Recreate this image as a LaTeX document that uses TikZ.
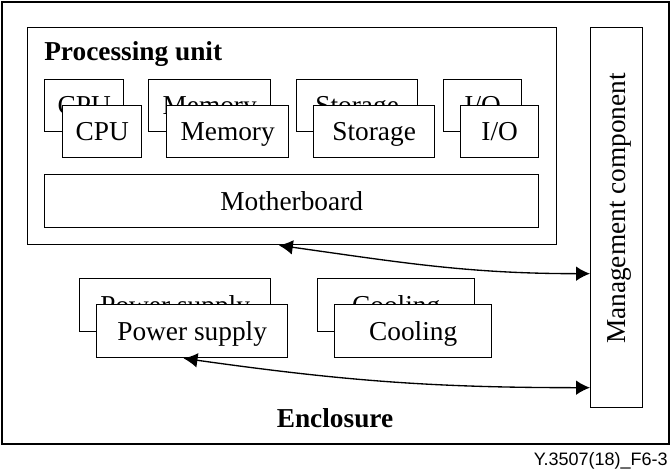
\documentclass[tikz,border=0pt]{standalone}
\usepackage{fontspec}
\setmainfont{Liberation Serif}
\newfontfamily\footfont{Liberation Sans}
\usetikzlibrary{arrows.meta}

\begin{document}
\begin{tikzpicture}[x=0.75pt,y=0.75pt,
    box/.style={draw, line width=1pt, anchor=north west, inner sep=0pt,
        font=\fontsize{20.5}{24}\selectfont, text height=13.6pt, text depth=0pt},
    frontbox/.style={box, fill=white},
    link/.style={>={Latex[length=10.5pt,width=11pt]}, <->, line width=1pt},
    title/.style={font=\fontsize{20.5}{24}\selectfont\bfseries, inner sep=0pt}]

    \useasboundingbox (0,0) rectangle (670,-474);

    % Draw enclosure and the two big boxes
    \node[box, line width=1.2pt, minimum width=500.25pt, minimum height=331.5pt] (encl) at (1,-1) {};
    \node[box, minimum width=396.75pt, minimum height=162.75pt] (pu) at (27,-27) {};
    \node[box, minimum width=39pt, minimum height=285pt] (mgmt) at (590,-27) {};

    % Label the regions
    \node[title, anchor=base west] (putitle) at (44,-61) {Processing unit};
    \node[title, anchor=base] (encltitle) at (335,-427) {Enclosure};
    \node[box, draw=none, anchor=center, rotate=90] (mgmttitle) at (616,-208.5) {Management component};

    % Components, one behind the other
    \node[box, minimum width=59.25pt, minimum height=39pt] (cpuback) at (44,-79) {CPU};
    \node[frontbox, minimum width=59.25pt, minimum height=39pt] (cpu) at (62,-105) {CPU};
    \node[box, minimum width=91.5pt, minimum height=39pt] (memback) at (148,-79) {Memory};
    \node[frontbox, minimum width=91.5pt, minimum height=39pt] (mem) at (166,-105) {Memory};
    \node[box, minimum width=90.75pt, minimum height=39pt] (storback) at (296,-79) {Storage};
    \node[frontbox, minimum width=90.75pt, minimum height=39pt] (stor) at (313,-105) {Storage};
    \node[box, minimum width=58.5pt, minimum height=39pt] (ioback) at (443,-79) {I/O};
    \node[frontbox, minimum width=58.5pt, minimum height=39pt] (io) at (460,-105) {I/O};
    \node[box, minimum width=370.5pt, minimum height=39.75pt] (mb) at (44,-174) {Motherboard};

    \node[box, minimum width=143.25pt, minimum height=39.75pt] (psuback) at (79,-278) {Power supply};
    \node[frontbox, minimum width=143.25pt, minimum height=39.75pt] (psu) at (96,-304) {Power supply};
    \node[box, minimum width=117.75pt, minimum height=39.75pt] (coolback) at (317,-278) {Cooling};
    \node[frontbox, minimum width=117.75pt, minimum height=39.75pt] (cool) at (334,-304) {Cooling};

    % Draw links to the management component
    \draw[link] ([xshift=-10pt]pu.south) to[out=-8,in=180] ([yshift=-42pt]mgmt.west);
    \draw[link] ([xshift=-6.5pt]psu.south) to[out=-8,in=180] ([yshift=-127.5pt]mgmt.west);

    \node[anchor=base east, inner sep=0pt, font=\footfont\fontsize{13.5}{16}\selectfont] (figid) at (668,-465) {Y.3507(18)\_F6-3};

\end{tikzpicture}
\end{document}
